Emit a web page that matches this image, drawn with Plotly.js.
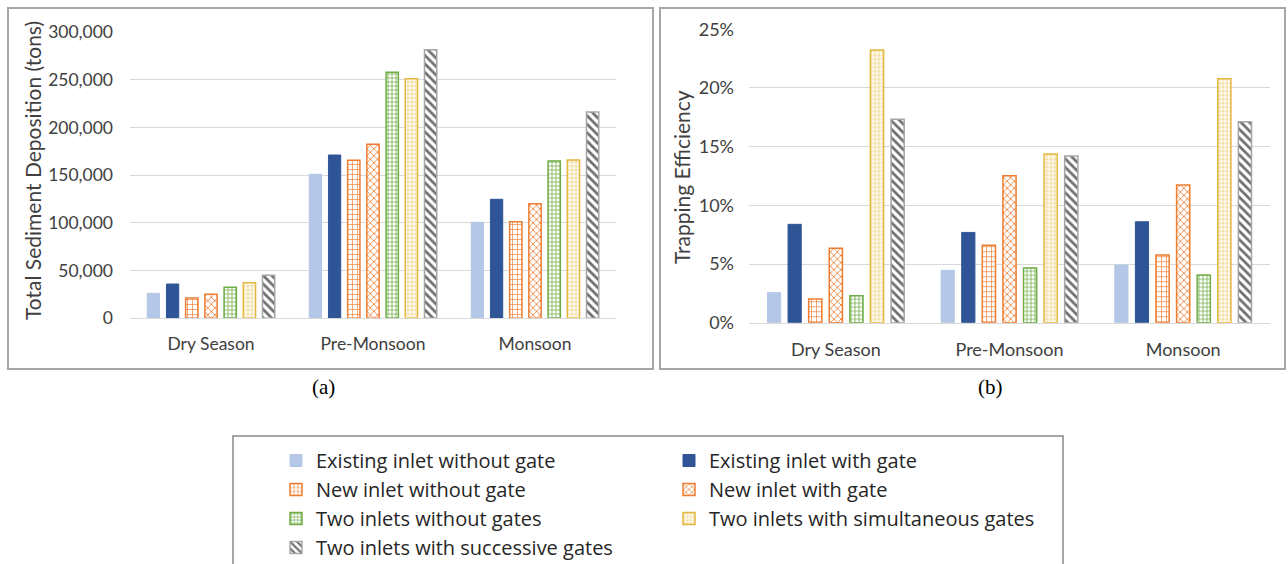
<!DOCTYPE html>
<html><head><meta charset="utf-8">
<script src="https://cdn.plot.ly/plotly-3.0.1.min.js"></script>
<style>html,body{margin:0;padding:0;background:#fff}#chart{width:1288px;height:564px}</style>
</head><body><div id="chart"></div>
<script>
const categories = ["Dry Season", "Pre-Monsoon", "Monsoon"];
const seriesNames = ["Existing inlet without gate", "Existing inlet with gate", "New inlet without gate", "New inlet with gate", "Two inlets without gates", "Two inlets with simultaneous gates", "Two inlets with successive gates"];

// Total sediment deposition (tons)
const depExistingNoGate = [26200, 150900, 100600];
const depExistingGate = [35900, 171100, 124700];
const depNewNoGate = [21300, 165600, 101200];
const depNewGate = [25100, 182300, 120100];
const depTwoNoGates = [32500, 257800, 164800];
const depTwoSimul = [37300, 251100, 165900];
const depTwoSuccessive = [45000, 281400, 216100];

// Trapping efficiency (fraction)
const teExistingNoGate = [0.0256, 0.0446, 0.0491];
const teExistingGate = [0.0838, 0.0769, 0.0860];
const teNewNoGate = [0.0202, 0.0659, 0.0577];
const teNewGate = [0.0634, 0.1252, 0.1173];
const teTwoNoGates = [0.0230, 0.0465, 0.0406];
const teTwoSimul = [0.2323, 0.1436, 0.2078];
const teTwoSuccessive = [0.1733, 0.1419, 0.1712];

const depSeries = [depExistingNoGate, depExistingGate, depNewNoGate, depNewGate, depTwoNoGates, depTwoSimul, depTwoSuccessive];
const teSeries = [teExistingNoGate, teExistingGate, teNewNoGate, teNewGate, teTwoNoGates, teTwoSimul, teTwoSuccessive];
const legendOf = ["legend", "legend2", "legend", "legend2", "legend", "legend2", "legend"];

const styles = [
  {color: "#B4C7E7", line: {color: "#B4C7E7", width: 1}},
  {color: "#2F5597", line: {color: "#2F5597", width: 1}},
  {color: "#FFFFFF", line: {color: "#ED7D31", width: 1.5}, pattern: {shape: "+", fgcolor: "#ED7D31", bgcolor: "#FFFFFF", size: 5, solidity: 0.25}},
  {color: "#FFFFFF", line: {color: "#ED7D31", width: 1.5}, pattern: {shape: "x", fgcolor: "#ED7D31", bgcolor: "#FFFFFF", size: 5, solidity: 0.3}},
  {color: "#FFFFFF", line: {color: "#70AD47", width: 1.5}, pattern: {shape: "+", fgcolor: "#70AD47", bgcolor: "#FFFFFF", size: 4, solidity: 0.35}},
  {color: "#FDF6E0", line: {color: "#E3B83F", width: 1.5}, pattern: {shape: ".", fgcolor: "#F3E1AA", bgcolor: "#FDF9EE", size: 4, solidity: 0.5}},
  {color: "#FFFFFF", line: {color: "#A6A6A6", width: 1.5}, pattern: {shape: "\\", fgcolor: "#6E6E6E", bgcolor: "#FFFFFF", size: 6, solidity: 0.45}}
];

const traces = [];
seriesNames.forEach((name, i) => {
  traces.push({type: "bar", x: categories, y: depSeries[i], name: name, legendgroup: "g" + i, legend: legendOf[i],
    marker: styles[i], xaxis: "x", yaxis: "y", hoverinfo: "y+name"});
});
seriesNames.forEach((name, i) => {
  traces.push({type: "bar", x: categories, y: teSeries[i], name: name, legendgroup: "g" + i, showlegend: false,
    marker: styles[i], xaxis: "x2", yaxis: "y2", hoverinfo: "y+name"});
});

const W = 1288, H = 564;
const px = v => v / W, py = v => 1 - v / H;
const FONT = "Lato, 'Open Sans', sans-serif";
const LEGFONT = "'Open Sans', 'Noto Sans', sans-serif";
const tickFont = {family: FONT, size: 17.5, color: "#404040"};
const tickFont2 = {family: FONT, size: 18, color: "#404040"};
const frame = "#A6A6A6";

const layout = {
  width: W, height: H, autosize: false,
  margin: {l: 0, r: 0, t: 0, b: 0, autoexpand: false},
  paper_bgcolor: "#FFFFFF", plot_bgcolor: "rgba(0,0,0,0)",
  barmode: "group", bargap: 0.17, bargroupgap: 0.36,
  font: {family: FONT, color: "#404040"},
  xaxis: {domain: [px(130), px(616)], anchor: "y", showline: true, linecolor: "#D9D9D9", linewidth: 1,
    ticks: "", tickfont: tickFont, ticklabelstandoff: 10, tickangle: 0, automargin: false, fixedrange: true},
  yaxis: {domain: [py(318.3), py(32)], anchor: "x", range: [0, 300000], tickvals: [0, 50000, 100000, 150000, 200000, 250000, 300000],
    tickformat: ",d", gridcolor: "#D9D9D9", gridwidth: 1, zeroline: false, showline: false, ticks: "",
    tickfont: tickFont, ticklabelstandoff: 16, automargin: false, fixedrange: true},
  xaxis2: {domain: [px(749), px(1270)], anchor: "y2", showline: true, linecolor: "#D9D9D9", linewidth: 1,
    ticks: "", tickfont: tickFont2, ticklabelstandoff: 11, tickangle: 0, automargin: false, fixedrange: true},
  yaxis2: {domain: [py(322.7), py(29.2)], anchor: "x2", range: [0, 0.25], tickvals: [0, 0.05, 0.10, 0.15, 0.20, 0.25],
    tickformat: ".0%", gridcolor: "#D9D9D9", gridwidth: 1, zeroline: false, showline: false, ticks: "",
    tickfont: tickFont2, ticklabelstandoff: 14, automargin: false, fixedrange: true},
  legend: {xref: "container", yref: "container", x: px(276), y: py(441), xanchor: "left", yanchor: "top",
    orientation: "v", font: {family: LEGFONT, size: 20, color: "#262626"}, bgcolor: "rgba(0,0,0,0)",
    tracegroupgap: 0, traceorder: "normal"},
  legend2: {xref: "container", yref: "container", x: px(669), y: py(441), xanchor: "left", yanchor: "top",
    orientation: "v", font: {family: LEGFONT, size: 20, color: "#262626"}, bgcolor: "rgba(0,0,0,0)",
    tracegroupgap: 0, traceorder: "normal"},
  shapes: [
    {type: "rect", xref: "paper", yref: "paper", x0: px(8), x1: px(653), y0: py(369), y1: py(8), line: {color: frame, width: 2}},
    {type: "rect", xref: "paper", yref: "paper", x0: px(660), x1: px(1285), y0: py(369), y1: py(8), line: {color: frame, width: 2}},
    {type: "rect", xref: "paper", yref: "paper", x0: px(233), x1: px(1063), y0: py(575), y1: py(436), line: {color: frame, width: 2}}
  ],
  annotations: [
    {text: "Total Sediment Deposition (tons)", textangle: -90, xref: "paper", yref: "paper", x: px(32), y: py(171),
      showarrow: false, xanchor: "center", yanchor: "middle", font: {family: FONT, size: 21, color: "#404040"}},
    {text: "Trapping Efficiency", textangle: -90, xref: "paper", yref: "paper", x: px(681), y: py(177),
      showarrow: false, xanchor: "center", yanchor: "middle", font: {family: FONT, size: 21, color: "#404040"}},
    {text: "(a)", xref: "paper", yref: "paper", x: px(323), y: py(387), showarrow: false, xanchor: "center", yanchor: "middle",
      font: {family: "'Liberation Serif', 'DejaVu Serif', serif", size: 21, color: "#000000"}},
    {text: "(b)", xref: "paper", yref: "paper", x: px(990), y: py(387), showarrow: false, xanchor: "center", yanchor: "middle",
      font: {family: "'Liberation Serif', 'DejaVu Serif', serif", size: 21, color: "#000000"}}
  ]
};

Plotly.newPlot("chart", traces, layout, {displayModeBar: false, staticPlot: false});
</script></body></html>
